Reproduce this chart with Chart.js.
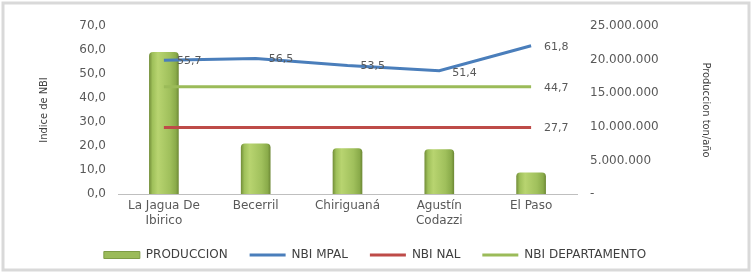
<!DOCTYPE html>
<html>
<head>
<meta charset="utf-8">
<script src="https://cdn.jsdelivr.net/npm/chart.js@4.4.0/dist/chart.umd.min.js"></script>
<style>
  body { margin: 0; background: #fff; }
  #wrap { width: 752px; height: 273px; }
</style>
</head>
<body>
<div id="wrap"><canvas id="canvasNbi" width="752" height="273"></canvas></div>
<script>
var municipios = [['La Jagua De', 'Ibirico'], 'Becerril', 'Chiriguaná', ['Agustín', 'Codazzi'], 'El Paso'];
var produccion = [21100000, 7450000, 6750000, 6600000, 3150000];
var nbiMpal = [55.7, 56.5, 53.5, 51.4, 61.8];
var nbiNal = [27.7, 27.7, 27.7, 27.7, 27.7];
var nbiDepto = [44.7, 44.7, 44.7, 44.7, 44.7];

var textColor = '#595959';
var fontName = "'DejaVu Sans', sans-serif";
var fontTitulo = "'DejaVu Sans Condensed', 'DejaVu Sans', sans-serif";

function numEs(v, dec) {
    var s = v.toFixed(dec).split('.');
    var ent = s[0].replace(/\B(?=(\d{3})+(?!\d))/g, '.');
    return dec ? ent + ',' + s[1] : ent;
}

// fondo blanco y marco gris
var marco = {
    id: 'marco',
    beforeDraw: function (chart) {
        var ctx = chart.ctx;
        ctx.save();
        ctx.fillStyle = '#fff';
        ctx.fillRect(0, 0, chart.width, chart.height);
        ctx.strokeStyle = '#d9d9d9';
        ctx.lineWidth = 3;
        ctx.strokeRect(3, 3, chart.width - 6, chart.height - 6);
        ctx.restore();
    }
};

// etiquetas de valor para las lineas
var etiquetas = {
    id: 'etiquetas',
    afterDatasetsDraw: function (chart) {
        var ctx = chart.ctx;
        ctx.save();
        ctx.font = '11px ' + fontName;
        ctx.fillStyle = textColor;
        ctx.textAlign = 'left';
        ctx.textBaseline = 'middle';
        chart.data.datasets.forEach(function (ds, i) {
            if (!ds.etiquetas) return;
            var meta = chart.getDatasetMeta(i);
            meta.data.forEach(function (pt, j) {
                if (ds.etiquetas === 'ultimo' && j !== meta.data.length - 1) return;
                var dy = (j === 3) ? 3 : 1;
                ctx.fillText(numEs(ds.data[j], 1), pt.x + 13, pt.y + dy);
            });
        });
        ctx.restore();
    }
};

function colorBarra(c) {
    var ch = c.chart;
    if (!ch.chartArea || c.type !== 'data') return '#9bbb59';
    var x = ch.scales.x.getPixelForValue(c.dataIndex);
    var g = ch.ctx.createLinearGradient(x - 15, 0, x + 15, 0);
    g.addColorStop(0, '#6f8a36');
    g.addColorStop(0.12, '#9fc05a');
    g.addColorStop(0.3, '#b8d470');
    g.addColorStop(0.7, '#a0c05c');
    g.addColorStop(0.9, '#8aab4a');
    g.addColorStop(1, '#6a8533');
    return g;
}

var ordenLeyenda = ['PRODUCCION', 'NBI MPAL', 'NBI NAL', 'NBI DEPARTAMENTO'];

var config = {
    type: 'bar',
    data: {
        labels: municipios,
        datasets: [{
            type: 'line',
            label: 'NBI MPAL',
            data: nbiMpal,
            yAxisID: 'y',
            borderColor: '#4a7ebb',
            backgroundColor: '#4a7ebb',
            borderWidth: 3,
            pointRadius: 0,
            pointStyle: 'line',
            tension: 0,
            etiquetas: 'todos'
        }, {
            type: 'line',
            label: 'NBI NAL',
            data: nbiNal,
            yAxisID: 'y',
            borderColor: '#be4b48',
            backgroundColor: '#be4b48',
            borderWidth: 3,
            pointRadius: 0,
            pointStyle: 'line',
            etiquetas: 'ultimo'
        }, {
            type: 'line',
            label: 'NBI DEPARTAMENTO',
            data: nbiDepto,
            yAxisID: 'y',
            borderColor: '#9bbb59',
            backgroundColor: '#9bbb59',
            borderWidth: 3,
            pointRadius: 0,
            pointStyle: 'line',
            etiquetas: 'ultimo'
        }, {
            type: 'bar',
            label: 'PRODUCCION',
            data: produccion,
            yAxisID: 'y1',
            backgroundColor: colorBarra,
            borderColor: '#7e9c45',
            borderWidth: 0,
            borderRadius: { topLeft: 4, topRight: 4 },
            borderSkipped: 'bottom',
            barThickness: 29,
            pointStyle: 'rect'
        }]
    },
    options: {
        animation: false,
        responsive: false,
        layout: { padding: { left: 36, right: 38, top: 26, bottom: 2 } },
        scales: {
            x: {
                grid: { display: false, drawTicks: false },
                border: { display: true, color: '#bfbfbf', width: 1 },
                ticks: {
                    color: textColor,
                    font: { family: fontName, size: 12 },
                    padding: 5,
                    maxRotation: 0,
                    autoSkip: false
                },
                afterFit: function (s) { s.height = 33; }
            },
            y: {
                position: 'left',
                min: 0,
                max: 70,
                grid: { display: false, drawTicks: false },
                border: { display: false },
                ticks: {
                    stepSize: 10,
                    color: textColor,
                    font: { family: fontName, size: 12 },
                    padding: 12,
                    callback: function (v) { return numEs(v, 1); }
                },
                title: {
                    display: true,
                    text: 'Indice de NBI',
                    color: '#404040',
                    font: { family: fontTitulo, size: 11 },
                    padding: { top: 2, bottom: 0 }
                },
                afterFit: function (s) { s.width = 82; }
            },
            y1: {
                position: 'right',
                min: 0,
                max: 25000000,
                grid: { display: false, drawTicks: false },
                border: { display: false },
                ticks: {
                    stepSize: 5000000,
                    color: textColor,
                    font: { family: fontName, size: 12 },
                    padding: 13,
                    callback: function (v) { return v === 0 ? '-' : numEs(v, 0); }
                },
                title: {
                    display: true,
                    text: 'Produccion ton/año',
                    color: '#404040',
                    font: { family: fontTitulo, size: 11 },
                    padding: { top: 2, bottom: 0 }
                },
                afterFit: function (s) { s.width = 137; }
            }
        },
        plugins: {
            legend: {
                position: 'bottom',
                labels: {
                    usePointStyle: true,
                    pointStyleWidth: 36,
                    boxHeight: 7,
                    padding: 22,
                    color: '#404040',
                    font: { family: fontName, size: 12 },
                    sort: function (a, b) {
                        return ordenLeyenda.indexOf(a.text) - ordenLeyenda.indexOf(b.text);
                    },
                    generateLabels: function (chart) {
                        var items = Chart.defaults.plugins.legend.labels.generateLabels(chart);
                        items.forEach(function (it) {
                            if (it.text === 'PRODUCCION') {
                                it.fillStyle = '#9bbb59';
                                it.strokeStyle = '#7e9c45';
                                it.lineWidth = 1;
                            }
                        });
                        return items;
                    }
                }
            },
            tooltip: { enabled: false }
        }
    },
    plugins: [marco, etiquetas]
};

var ctx = document.getElementById('canvasNbi').getContext('2d');
var graphNbi = new Chart(ctx, config);
</script>
</body>
</html>
